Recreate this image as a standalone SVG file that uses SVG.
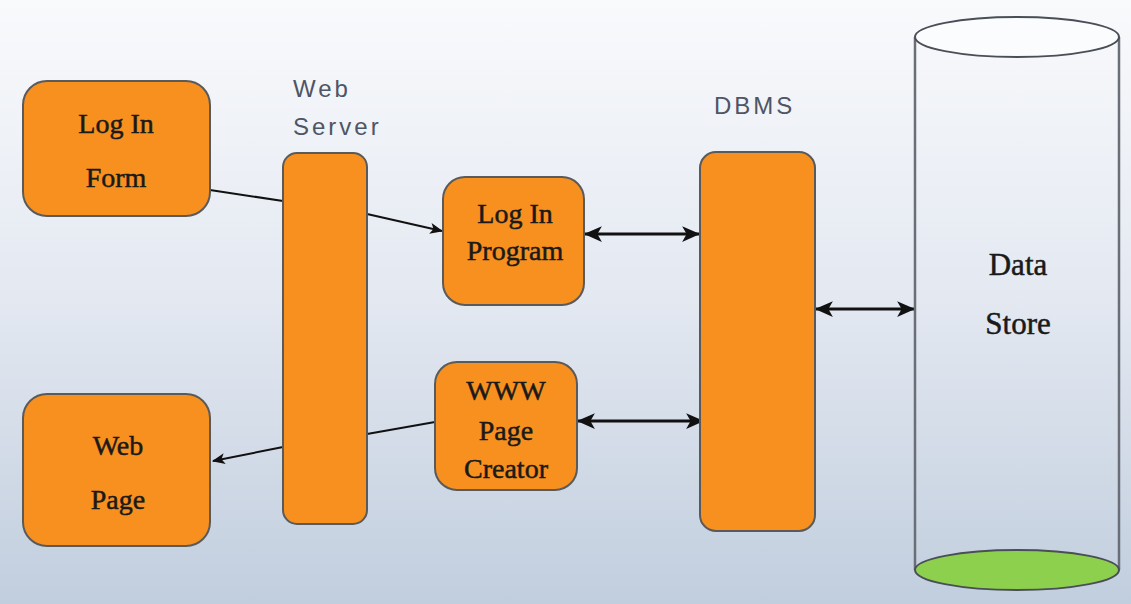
<svg xmlns="http://www.w3.org/2000/svg" width="1131" height="604" viewBox="0 0 1131 604">
<defs>
<linearGradient id="bg" x1="0" y1="0" x2="0" y2="1">
<stop offset="0" stop-color="#f9fafc"/>
<stop offset="0.5" stop-color="#e3e8f1"/>
<stop offset="1" stop-color="#c1cede"/>
</linearGradient>
<marker id="ah" viewBox="0 0 12 10" refX="11" refY="5" markerWidth="13" markerHeight="11" markerUnits="userSpaceOnUse" orient="auto-start-reverse">
<path d="M0,0 L12,5 L0,10 L3,5 Z" fill="#111"/>
</marker>
<marker id="ahb" viewBox="0 0 16 14" refX="15" refY="7" markerWidth="18" markerHeight="16" markerUnits="userSpaceOnUse" orient="auto-start-reverse">
<path d="M0,0 L16,7 L0,14 L4,7 Z" fill="#111"/>
</marker>
</defs>
<style>
.node{fill:#f7901e;stroke:#5a5a5a;stroke-width:2}
.t{font-family:"Liberation Serif","Times New Roman",serif;font-size:28px;fill:#1a1a1a;stroke:#1a1a1a;stroke-width:0.5;text-anchor:middle}
.lbl{font-family:"Liberation Sans",Arial,sans-serif;font-size:24px;fill:#4e5564;letter-spacing:3px}
.c{fill:none;stroke:#111;stroke-width:2}
.c3{fill:none;stroke:#111;stroke-width:3}
</style>
<rect width="1131" height="604" fill="url(#bg)"/>

<g id="connectors">
<line class="c" x1="210" y1="190" x2="283" y2="201"/>
<line class="c" x1="367" y1="214" x2="442" y2="231" marker-end="url(#ah)"/>
<line class="c3" x1="585" y1="234" x2="699" y2="234" marker-start="url(#ahb)" marker-end="url(#ahb)"/>
<line class="c3" x1="578" y1="421" x2="703" y2="421" marker-start="url(#ahb)" marker-end="url(#ahb)"/>
<line class="c3" x1="816" y1="309" x2="914" y2="309" marker-start="url(#ahb)" marker-end="url(#ahb)"/>
<line class="c" x1="435" y1="422" x2="367" y2="434"/>
<line class="c" x1="283" y1="447" x2="213" y2="461" marker-end="url(#ah)"/>
</g>

<g id="login-form">
<rect class="node" x="23" y="81" width="187" height="135" rx="24"/>
<text class="t" x="116" y="133">Log In</text>
<text class="t" x="116" y="187">Form</text>
</g>

<g id="web-server">
<text class="lbl" x="293" y="97">Web</text>
<text class="lbl" x="293" y="135">Server</text>
<rect class="node" x="283" y="153" width="84" height="371" rx="14"/>
</g>

<g id="login-program">
<rect class="node" x="443" y="177" width="141" height="128" rx="22"/>
<text class="t" x="515" y="223">Log In</text>
<text class="t" x="515" y="260">Program</text>
</g>

<g id="www-page-creator">
<rect class="node" x="435" y="362" width="142" height="128" rx="22"/>
<text class="t" x="506" y="400">WWW</text>
<text class="t" x="506" y="440">Page</text>
<text class="t" x="506" y="478">Creator</text>
</g>

<g id="web-page">
<rect class="node" x="23" y="394" width="187" height="152" rx="24"/>
<text class="t" x="118" y="455">Web</text>
<text class="t" x="118" y="509">Page</text>
</g>

<g id="dbms">
<text class="lbl" x="714" y="114">DBMS</text>
<rect class="node" x="700" y="152" width="115" height="379" rx="16"/>
</g>

<g id="data-store">
<line x1="915" y1="37" x2="915" y2="570" stroke="#6a6e76" stroke-width="2.5"/>
<line x1="1119" y1="37" x2="1119" y2="570" stroke="#6a6e76" stroke-width="2.5"/>
<ellipse cx="1017" cy="570" rx="102" ry="20" fill="#8dd04d" stroke="#4a4e56" stroke-width="2"/>
<ellipse cx="1017" cy="37" rx="102" ry="20" fill="#fbfcfd" stroke="#4a4e56" stroke-width="2"/>
<text class="t" x="1018" y="275" style="font-size:31px">Data</text>
<text class="t" x="1018" y="334" style="font-size:31px">Store</text>
</g>
</svg>
